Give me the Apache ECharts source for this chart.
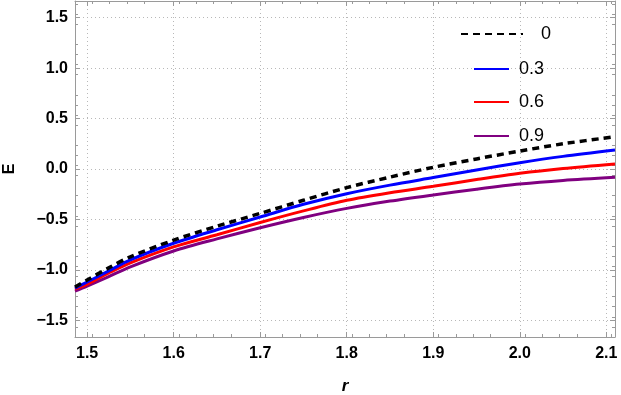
<!DOCTYPE html>
<html>
<head>
<meta charset="utf-8">
<script src="https://cdn.jsdelivr.net/npm/echarts@6/dist/echarts.min.js"></script>
<style>
  html, body { margin: 0; padding: 0; background: #fff; }
</style>
</head>
<body>
<div id="chart" style="width: 621px; height: 395px"></div>
<script>
const rValues = [1.486, 1.5, 1.525, 1.55, 1.6, 1.65, 1.7, 1.75, 1.8, 1.85, 1.9, 1.95, 2.0, 2.05, 2.11];
// E for each parameter value
const e0  = [-1.17, -1.10, -0.98, -0.87, -0.705, -0.567, -0.44, -0.31, -0.185, -0.08, 0.017, 0.10, 0.178, 0.25, 0.32];
const e03 = [-1.18, -1.12, -1.01, -0.90, -0.736, -0.602, -0.476, -0.35, -0.245, -0.16, -0.085, -0.01, 0.062, 0.125, 0.188];
const e06 = [-1.19, -1.14, -1.03, -0.93, -0.772, -0.652, -0.53, -0.415, -0.31, -0.235, -0.172, -0.105, -0.043, 0.005, 0.05];
const e09 = [-1.21, -1.16, -1.066, -0.97, -0.813, -0.693, -0.582, -0.48, -0.39, -0.318, -0.257, -0.20, -0.149, -0.113, -0.082];
const seriesNames = ["0", "0.3", "0.6", "0.9"];
const xTicks = [1.5, 1.6, 1.7, 1.8, 1.9, 2.0, 2.1];
const yTicks = [-1.5, -1.0, -0.5, 0.0, 0.5, 1.0, 1.5];

function pairs(ys) {
  return rValues.map((r, i) => [r, ys[i]]);
}

const myChart = echarts.init(document.getElementById("chart"));

const frameColor = "#9a9a9a";
const gridLine = { show: true, lineStyle: { color: "#b8b8b8", type: [1, 3], width: 1 } };

function xAxisDef(pos, withLabels) {
  return {
    type: "value",
    position: pos,
    min: 1.486,
    max: 2.11,
    interval: 0.1,
    axisLine: { show: true, onZero: false, lineStyle: { color: frameColor } },
    axisTick: { show: true, inside: true, length: 5, customValues: xTicks, lineStyle: { color: frameColor } },
    minorTick: { show: true, splitNumber: 5, length: 3, lineStyle: { color: frameColor } },
    axisLabel: {
      show: withLabels,
      customValues: xTicks,
      margin: 9,
      color: "#000",
      fontFamily: "Liberation Sans, Arial",
      fontWeight: "bold",
      fontSize: 16,
      formatter: v => v.toFixed(1),
    },
    splitLine: withLabels ? gridLine : { show: false },
    name: withLabels ? "r" : "",
    nameLocation: "middle",
    nameGap: 41,
    nameTextStyle: { color: "#000", fontFamily: "Liberation Sans, Arial", fontWeight: "bold", fontStyle: "italic", fontSize: 17 },
  };
}

function yAxisDef(pos, withLabels) {
  return {
    type: "value",
    position: pos,
    min: -1.665,
    max: 1.665,
    interval: 0.5,
    axisLine: { show: true, onZero: false, lineStyle: { color: frameColor } },
    axisTick: { show: true, inside: true, length: 5, customValues: yTicks, lineStyle: { color: frameColor } },
    minorTick: { show: true, splitNumber: 5, length: 3, lineStyle: { color: frameColor } },
    axisLabel: {
      show: withLabels,
      customValues: yTicks,
      margin: 7,
      color: "#000",
      fontFamily: "Liberation Sans, Arial",
      fontWeight: "bold",
      fontSize: 16,
      formatter: v => v.toFixed(1).replace("-", "\u2212"),
    },
    splitLine: withLabels ? gridLine : { show: false },
    name: withLabels ? "E" : "",
    nameLocation: "middle",
    nameRotate: 90,
    nameGap: 57,
    nameTextStyle: { color: "#000", fontFamily: "Liberation Sans, Arial", fontWeight: "bold", fontSize: 16 },
  };
}

function legendDef(name, left, top, width, gap) {
  return {
    data: [name],
    left: left,
    top: top,
    itemWidth: width,
    itemHeight: 14,
    itemGap: 0,
    padding: 0,
    itemStyle: { opacity: 0 },
    textStyle: { color: "#000", fontFamily: "Liberation Sans, Arial", fontSize: 18, padding: [0, 0, 0, gap - 5] },
  };
}

const option = {
  animation: false,
  grid: { left: 75, right: 6, top: 1, bottom: 58, show: false, containLabel: false, outerBoundsMode: "none" },
  legend: [
    legendDef("0", 460, 25, 62, 18),
    legendDef("0.3", 473, 60, 35, 10),
    legendDef("0.6", 473, 93, 35, 10),
    legendDef("0.9", 473, 127, 35, 10),
  ],
  xAxis: [xAxisDef("bottom", true), xAxisDef("top", false)],
  yAxis: [yAxisDef("left", true), yAxisDef("right", false)],
  series: [
    { name: seriesNames[0], type: "line", symbol: "none", smooth: 0.3, z: 5, lineStyle: { color: "#000", width: 3.5, type: [7, 5] }, itemStyle: { color: "#000" }, data: pairs(e0) },
    { name: seriesNames[1], type: "line", symbol: "none", smooth: 0.3, z: 4, lineStyle: { color: "#0000ff", width: 3 }, itemStyle: { color: "#0000ff" }, data: pairs(e03) },
    { name: seriesNames[2], type: "line", symbol: "none", smooth: 0.3, z: 3, lineStyle: { color: "#ff0000", width: 3 }, itemStyle: { color: "#ff0000" }, data: pairs(e06) },
    { name: seriesNames[3], type: "line", symbol: "none", smooth: 0.3, z: 2, lineStyle: { color: "#800080", width: 3 }, itemStyle: { color: "#800080" }, data: pairs(e09) },
  ],
};

myChart.setOption(option);
window.addEventListener("resize", function () {
  myChart.resize();
});
</script>
</body>
</html>
